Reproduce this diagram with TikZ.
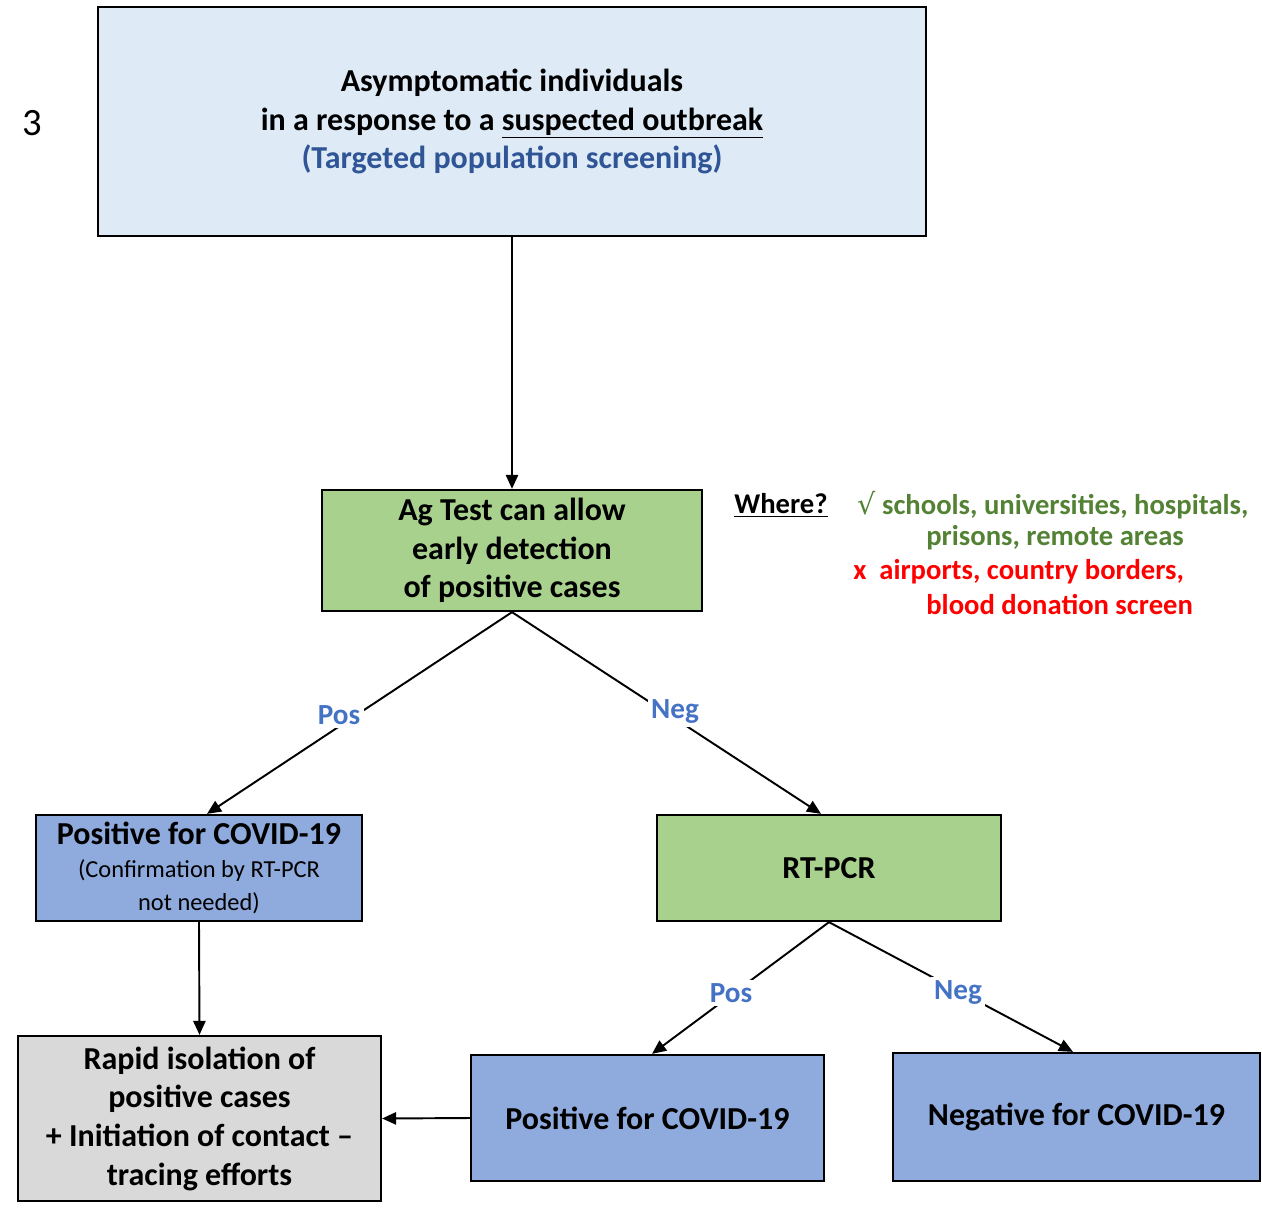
\documentclass[tikz,border=0pt]{standalone}
\usepackage{fontspec}
\setmainfont{Carlito}
\newfontfamily\symfont{DejaVu Sans}
\usepackage{tikz}
\usetikzlibrary{arrows.meta,positioning,calc}
\definecolor{topblue}{HTML}{DEEAF6}
\definecolor{aggreen}{HTML}{A9D18E}
\definecolor{boxblue}{HTML}{8FAADC}
\definecolor{boxgray}{HTML}{D9D9D9}
\definecolor{darkblue}{HTML}{2F5597}
\definecolor{lblblue}{HTML}{4472C4}
\definecolor{txtgreen}{HTML}{548235}
\newcommand\subtxt[1]{{\mdseries\fontsize{13.9}{16.5}\selectfont #1}}

\begin{document}
\begin{tikzpicture}[x=0.02cm, y=-0.02cm,
  box/.style={draw, line width=1.3pt, align=center, inner sep=0pt, font=\bfseries\fontsize{18.2}{22}\selectfont},
  arr/.style={line width=1.1pt, -{Triangle[length=8pt, width=7pt]}},
  lbl/.style={fill=white, inner sep=2pt, text=lblblue, font=\bfseries\fontsize{16.6}{19}\selectfont},
  wh/.style={anchor=west, inner sep=0pt, font=\bfseries\fontsize{16.3}{19}\selectfont}]
\useasboundingbox (0,0) rectangle (1262,1215);
\node[font=\fontsize{22}{24}\selectfont] (num) at (32,123) {3};
% boxes
\node[box, fill=topblue, minimum width=16.56cm, minimum height=4.58cm] (top) at (512,121.5)
  {Asymptomatic individuals\\ in a response to a \underline{suspected outbreak}\\ \textcolor{darkblue}{(Targeted population screening)}};
\node[box, fill=aggreen, minimum width=7.6cm, minimum height=2.42cm] (ag) at (512,550.5)
  {Ag Test can allow\\ early detection\\ of positive cases};
\node[box, fill=boxblue, minimum width=6.52cm, minimum height=2.12cm] (posA) at (199,868)
  {Positive for COVID-19\\[-3pt] \subtxt{(Confirmation by RT-PCR}\\[-3pt] \subtxt{not needed)}};
\node[box, fill=aggreen, minimum width=6.88cm, minimum height=2.12cm] (pcr) at (829,868) {RT-PCR};
\node[box, fill=boxgray, minimum width=7.26cm, minimum height=3.3cm] (iso) at (199.5,1118.5)
  {Rapid isolation of\\ positive cases\\ + Initiation of contact --\\ tracing efforts};
\node[box, fill=boxblue, minimum width=7.06cm, minimum height=2.52cm] (posB) at (647.5,1118) {Positive for COVID-19};
\node[box, fill=boxblue, minimum width=7.34cm, minimum height=2.56cm] (negB) at (1076.5,1117) {Negative for COVID-19};
% where?
\node[wh] (where) at (734,505) {\underline{Where?}};
\node[wh, text=txtgreen] (yes1) at (857,505) {{\mdseries\symfont √} schools, universities, hospitals,};
\node[wh, text=txtgreen] (yes2) at (926,538) {prisons, remote areas};
\node[wh, text=red] (no1) at (853,572) {x\hspace{0.45em}airports, country borders,};
\node[wh, text=red] (no2) at (926,605) {blood donation screen};
% arrows
\draw[arr] (top.south) -- (ag.north);
\draw[arr] (ag.south) -- ([xshift=0.16cm]posA.north);
\draw[arr] (ag.south) -- ([xshift=-0.16cm]pcr.north);
\draw[arr] (posA.south) -- (iso.north);
\draw[arr] (pcr.south) -- ([xshift=0.09cm]posB.north);
\draw[arr] (pcr.south) -- ([xshift=-0.07cm]negB.north);
\draw[arr] (posB.west) -- (iso.east);
% labels on the lines
\node[lbl] (p1) at (339,715) {Pos};
\node[lbl] (n1) at (675,712) {Neg};
\node[lbl] (p2) at (731,993) {Pos};
\node[lbl] (n2) at (958,992) {Neg};
\end{tikzpicture}
\end{document}
